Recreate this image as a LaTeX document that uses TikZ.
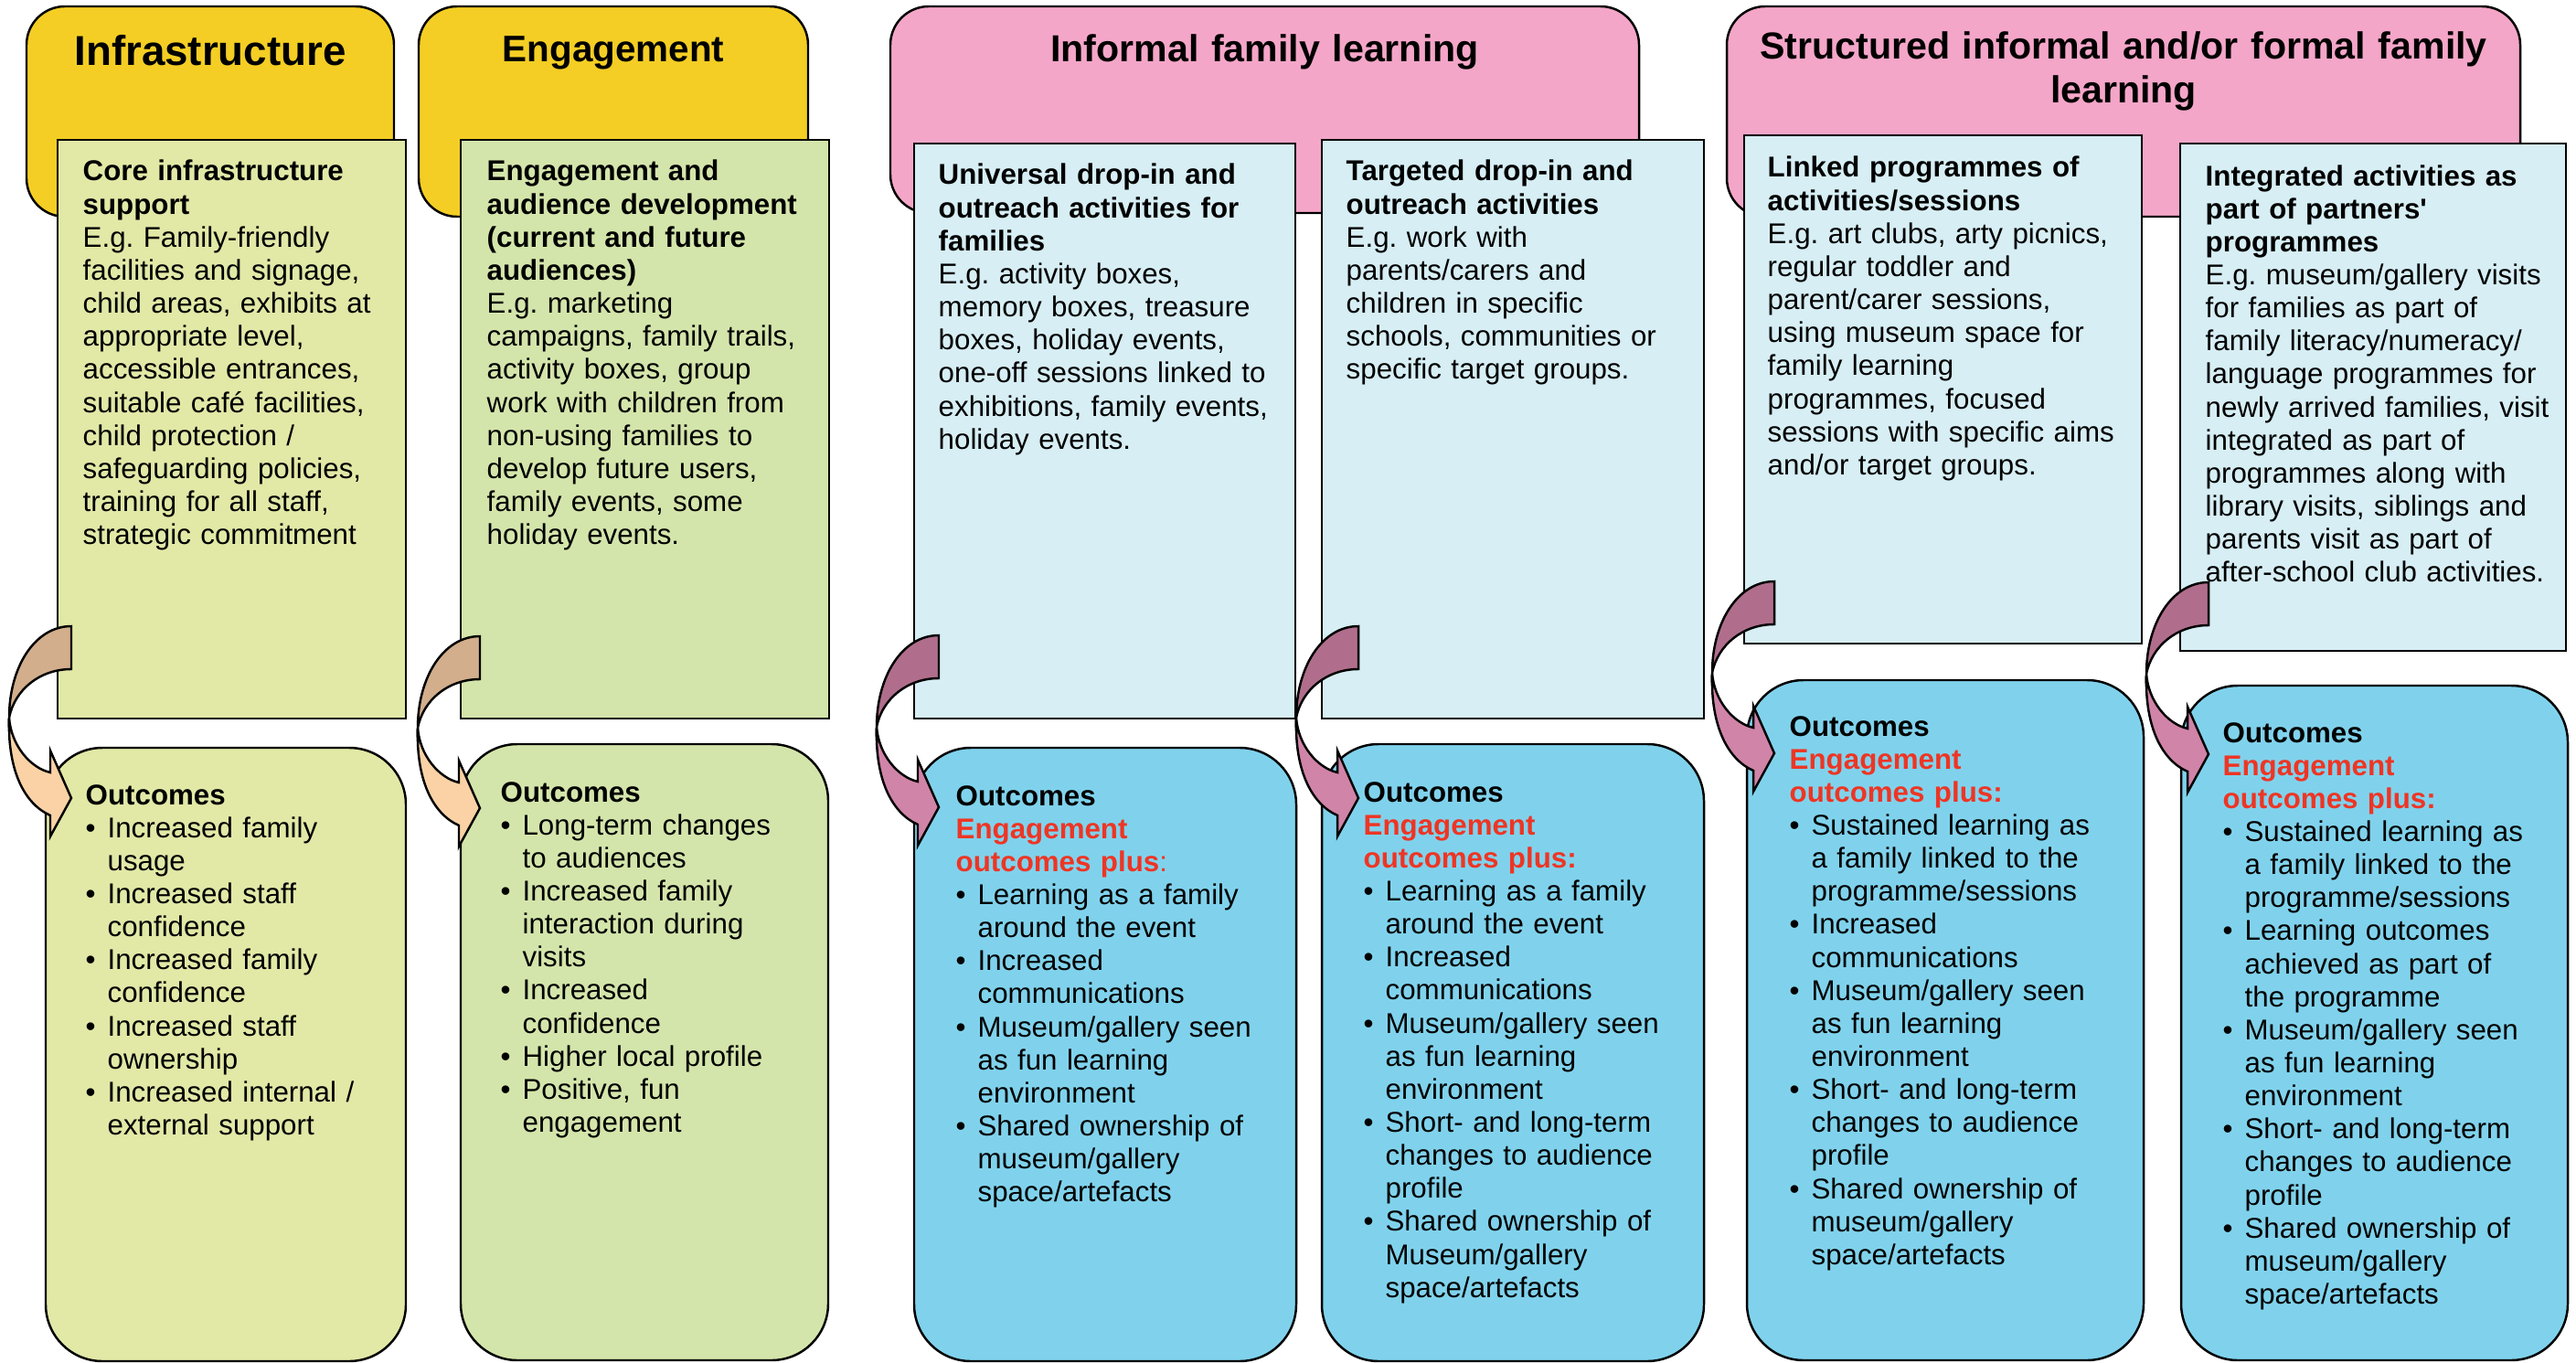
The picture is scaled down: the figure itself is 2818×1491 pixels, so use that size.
\documentclass[tikz,border=0pt]{standalone}
\usepackage{fontspec}
\setmainfont{Liberation Sans}
\usetikzlibrary{fit,calc}
\definecolor{hyellow}{RGB}{244,206,36}
\definecolor{hpink}{RGB}{244,166,200}
\definecolor{gone}{RGB}{226,232,166}
\definecolor{gtwo}{RGB}{212,229,171}
\definecolor{lblue}{RGB}{214,238,244}
\definecolor{oblue}{RGB}{128,210,236}
\definecolor{tanA}{RGB}{210,174,140}
\definecolor{peachA}{RGB}{250,210,166}
\definecolor{mauveA}{RGB}{176,110,140}
\definecolor{pinkA}{RGB}{208,132,168}
\definecolor{redT}{RGB}{238,53,36}
\newcommand{\bl}{\par\noindent\hangindent=6.8pt\hangafter=1\makebox[6.8pt][l]{\textbullet}}
\newcommand{\nl}{\newline}
\newcommand{\famarrow}[3]{%
  \begin{scope}[shift={(#1)}]
    \filldraw[arrowline, fill=#2] (0,0) .. controls (-40,0) and (-68,45) .. (-68,100)
        .. controls (-62,70) and (-35,47) .. (0,47) -- cycle;
    \filldraw[arrowline, fill=#3] (-68,100) .. controls (-70,160) and (-50,195) .. (-23,207)
        -- (-23,230) -- (0,188) -- (-23,136) -- (-23,160)
        .. controls (-45,155) and (-66,130) .. (-68,100) -- cycle;
  \end{scope}}
\begin{document}
\begin{tikzpicture}[x=0.01cm,y=-0.01cm,
  box/.style={draw=black, line width=0.7pt, inner sep=0pt, outer sep=0pt},
  hdr/.style={box, rounded corners=0.42cm},
  rbox/.style={box},
  obox/.style={box, rounded corners=0.62cm},
  body/.style={font=\fontsize{8.9pt}{10.28pt}\selectfont\frenchspacing, text width=5cm, align=left, inner sep=0pt, anchor=base west},
  htitle/.style={font=\bfseries\fontsize{11.7pt}{13.4pt}\selectfont, text width=9cm, align=center, inner sep=0pt, anchor=base},
  arrowline/.style={draw=black, line width=0.7pt, line join=miter}]
\useasboundingbox (0,0) rectangle (2818,1491);
\fill[white] (0,0) rectangle (2818,1491);

% header boxes
\node[hdr, fill=hyellow, fit={(29,7) (431,237)}] (h1) {};
\node[hdr, fill=hyellow, fit={(458,7) (884,237)}] (h2) {};
\node[hdr, fill=hpink, fit={(974,7) (1793,233)}] (h3) {};
\node[hdr, fill=hpink, fit={(1889,7) (2757,237)}] (h4) {};

\node[htitle, font=\bfseries\fontsize{13pt}{15pt}\selectfont] (ht1) at ($(h1.north)+(0,65)$) {Infrastructure};
\node[htitle, font=\bfseries\fontsize{11.5pt}{13.4pt}\selectfont] (ht2) at ($(h2.north)+(0,61)$) {Engagement};
\node[htitle] (ht3) at ($(h3.north)+(0,61)$) {Informal family learning};
\node[htitle] (ht4) at ($(h4.north)+(0,58)$) {Structured informal and/or formal family\\learning};

% activity boxes
\node[rbox, fill=gone, fit={(63,153) (444,786)}] (r1) {};
\node[rbox, fill=gtwo, fit={(504,153) (907,786)}] (r2) {};
\node[rbox, fill=lblue, fit={(1000,157) (1417,786)}] (r3) {};
\node[rbox, fill=lblue, fit={(1446,153) (1864,786)}] (r4) {};
\node[rbox, fill=lblue, fit={(1908,148) (2343,704)}] (r5) {};
\node[rbox, fill=lblue, fit={(2385,157) (2807,712)}] (r6) {};

% outcome boxes
\node[obox, fill=gone, fit={(50,818) (444,1489)}] (o1) {};
\node[obox, fill=gtwo, fit={(504,814) (906,1488)}] (o2) {};
\node[obox, fill=oblue, fit={(1000,818) (1418,1489)}] (o3) {};
\node[obox, fill=oblue, fit={(1446,814) (1864,1489)}] (o4) {};
\node[obox, fill=oblue, fit={(1911,744) (2345,1488)}] (o5) {};
\node[obox, fill=oblue, fit={(2386,750) (2809,1488)}] (o6) {};

% activity texts
\node[body] (t1) at ($(r1.north west)+(27,45)$) {\textbf{Core infrastructure\\support}\\
E.g. Family-friendly\\facilities and signage,\\child areas, exhibits at\\appropriate level,\\accessible entrances,\\suitable café facilities,\\child protection /\\safeguarding policies,\\training for all staff,\\strategic commitment};
\node[body] (t2) at ($(r2.north west)+(28,45)$) {\textbf{Engagement and\\audience development\\(current and future\\audiences)}\\
E.g. marketing\\campaigns, family trails,\\activity boxes, group\\work with children from\\non-using families to\\develop future users,\\family events, some\\holiday events.};
\node[body] (t3) at ($(r3.north west)+(26,45)$) {\textbf{Universal drop-in and\\outreach activities for\\families}\\
E.g. activity boxes,\\memory boxes, treasure\\boxes, holiday events,\\one-off sessions linked to\\exhibitions, family events,\\holiday events.};
\node[body] (t4) at ($(r4.north west)+(26,45)$) {\textbf{Targeted drop-in and\\outreach activities}\\
E.g. work with\\parents/carers and\\children in specific\\schools, communities or\\specific target groups.};
\node[body] (t5) at ($(r5.north west)+(25,46)$) {\textbf{Linked programmes of\\activities/sessions}\\
E.g. art clubs, arty picnics,\\regular toddler and\\parent/carer sessions,\\using museum space for\\family learning\\programmes, focused\\sessions with specific aims\\and/or target groups.};
\node[body] (t6) at ($(r6.north west)+(27,46)$) {\textbf{Integrated activities as\\part of partners\textquotesingle\\programmes}\\
E.g. museum/gallery visits\\for families as part of\\family literacy/numeracy/\\language programmes for\\newly arrived families, visit\\integrated as part of\\programmes along with\\library visits, siblings and\\parents visit as part of\\after-school club activities.};

% outcome texts
\node[body] (u1) at ($(o1.north west)+(43,62)$) {\textbf{Outcomes}
\bl Increased family\nl usage
\bl Increased staff\nl confidence
\bl Increased family\nl confidence
\bl Increased staff\nl ownership
\bl Increased internal /\nl external support\par};
\node[body] (u2) at ($(o2.north west)+(43,63)$) {\textbf{Outcomes}
\bl Long-term changes\nl to audiences
\bl Increased family\nl interaction during\nl visits
\bl Increased\nl confidence
\bl Higher local profile
\bl Positive, fun\nl engagement\par};
\node[body] (u3) at ($(o3.north west)+(45,63)$) {\textbf{Outcomes}\\
\textcolor{redT}{\textbf{Engagement\\outcomes plus}:}
\bl Learning as a family\nl around the event
\bl Increased\nl communications
\bl Museum/gallery seen\nl as fun learning\nl environment
\bl Shared ownership of\nl museum/gallery\nl space/artefacts\par};
\node[body] (u4) at ($(o4.north west)+(45,63)$) {\textbf{Outcomes}\\
\textcolor{redT}{\textbf{Engagement\\outcomes plus:}}
\bl Learning as a family\nl around the event
\bl Increased\nl communications
\bl Museum/gallery seen\nl as fun learning\nl environment
\bl Short- and long-term\nl changes to audience\nl profile
\bl Shared ownership of\nl Museum/gallery\nl space/artefacts\par};
\node[body] (u5) at ($(o5.north west)+(46,61)$) {\textbf{Outcomes}\\
\textcolor{redT}{\textbf{Engagement\\outcomes plus:}}
\bl Sustained learning as\nl a family linked to the\nl programme/sessions
\bl Increased\nl communications
\bl Museum/gallery seen\nl as fun learning\nl environment
\bl Short- and long-term\nl changes to audience\nl profile
\bl Shared ownership of\nl museum/gallery\nl space/artefacts\par};
\node[body] (u6) at ($(o6.north west)+(45,62)$) {\textbf{Outcomes}\\
\textcolor{redT}{\textbf{Engagement\\outcomes plus:}}
\bl Sustained learning as\nl a family linked to the\nl programme/sessions
\bl Learning outcomes\nl achieved as part of\nl the programme
\bl Museum/gallery seen\nl as fun learning\nl environment
\bl Short- and long-term\nl changes to audience\nl profile
\bl Shared ownership of\nl museum/gallery\nl space/artefacts\par};

% curved arrows
\coordinate (a1) at (78,685);
\coordinate (a2) at (525,696);
\coordinate (a3) at (1027,695);
\coordinate (a4) at (1486,685);
\coordinate (a5) at (1941,636);
\coordinate (a6) at (2416,637);
\famarrow{a1}{tanA}{peachA}
\famarrow{a2}{tanA}{peachA}
\famarrow{a3}{mauveA}{pinkA}
\famarrow{a4}{mauveA}{pinkA}
\famarrow{a5}{mauveA}{pinkA}
\famarrow{a6}{mauveA}{pinkA}
\end{tikzpicture}
\end{document}
